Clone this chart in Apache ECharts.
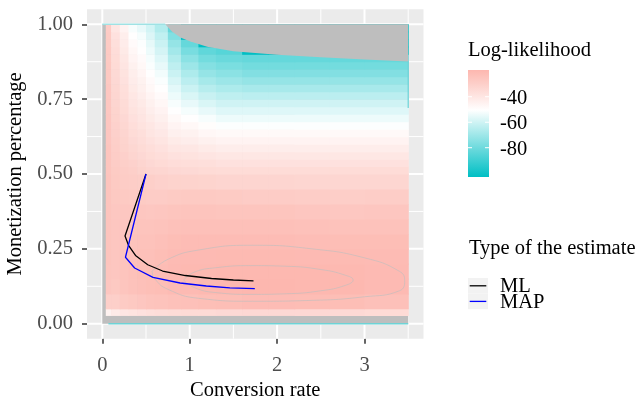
<!DOCTYPE html>
<html>
<head>
<meta charset="utf-8">
<script src="https://cdn.jsdelivr.net/npm/echarts@6/dist/echarts.min.js"></script>
<style>
  html, body { margin: 0; padding: 0; background: #fff; }
  #chart { width: 637px; height: 403px; }
</style>
</head>
<body>
<div id="chart"></div>
<script>
var FONT = "'Liberation Serif', 'Times New Roman', serif";

// axis breaks
var xMajor = [0, 1, 2, 3];
var xMinor = [0.5, 1.5, 2.5, 3.5];
var yMajor = [0, 0.25, 0.5, 0.75, 1];
var yMinor = [0.125, 0.375, 0.625, 0.875];

// log-likelihood surface (cells between column / row edges)
var dataExtentX = [0, 3.5];
var dataExtentY = [0, 1];
var xEdges = [0.04, 0.1, 0.2, 0.3, 0.4, 0.5, 0.6, 0.75, 0.9, 1.1, 1.3, 1.6, 1.9, 2.2, 2.6, 3.0, 3.5];
var yEdges = [0.028, 0.05, 0.1, 0.15, 0.2, 0.25, 0.3, 0.35, 0.4, 0.45, 0.5,
              0.525, 0.55, 0.575, 0.6, 0.625, 0.65, 0.675, 0.7, 0.725, 0.75,
              0.775, 0.8, 0.825, 0.85, 0.875, 0.9, 0.925, 0.95, 0.975, 1.0];
// rows bottom -> top, one value per column
var llRows = [
  [-45, -42, -40, -39, -38, -37, -36, -35.5, -35, -35, -34.5, -34, -34, -34, -34.5, -35],
  [-30, -30, -28, -27, -26, -25, -24.5, -23.5, -23, -22.5, -22, -21.5, -21.5, -21.7, -22, -23],
  [-26, -27, -25.5, -24, -23, -22.5, -22, -21, -20.5, -20, -19.5, -19.2, -19.1, -19.3, -19.6, -20.5],
  [-25.5, -26, -25, -23.5, -22.5, -22, -21.5, -20.5, -20, -19.8, -19.5, -19.3, -19.3, -19.5, -19.9, -20.5],
  [-25, -26, -25, -24, -23, -23, -22, -21, -20.5, -20.5, -20.3, -20.2, -20.2, -20.5, -20.8, -21],
  [-25, -26, -25.5, -24.5, -24, -24, -23, -22, -21.5, -21.5, -21.5, -21.5, -21.5, -21.8, -22, -22],
  [-25, -26, -26, -25.5, -25, -25, -24.5, -23.5, -23, -23, -23, -23, -23.2, -23.5, -24, -24],
  [-25, -26.5, -26.5, -26.5, -26, -26.5, -26, -25.5, -25, -25, -25.5, -25.5, -25.5, -26, -26.5, -26],
  [-25, -27, -27.5, -28, -28, -28.5, -28.5, -28, -27.5, -27.5, -28, -28.5, -28.5, -29, -29.5, -29],
  [-25, -27.5, -28.5, -29, -29.5, -30, -31, -31.5, -31.5, -32, -32.5, -32.5, -32.5, -33, -33, -33],
  [-25.5, -28, -29, -30, -31.5, -32.5, -33, -34, -34.5, -35, -35.5, -35.5, -35.5, -35.5, -35.5, -35.5],
  [-25.5, -28.5, -30, -31, -32.5, -34, -35, -36, -36.5, -37, -38, -38, -38, -38, -38, -38],
  [-25.5, -29, -30.5, -32.5, -34, -35.5, -36.5, -38, -38.5, -39.5, -40.5, -40.5, -40.5, -40.5, -40.5, -40.5],
  [-25.5, -29.5, -31.5, -33.5, -35, -36.5, -38, -40, -40.5, -42, -43, -43, -43, -43, -43, -43],
  [-26, -30, -32, -34.5, -36, -38, -39.5, -42, -43, -44.5, -45.5, -45.5, -45.5, -45.5, -45.5, -45.5],
  [-26, -30.5, -32.5, -35.5, -37, -39.5, -41, -44, -45, -47, -48, -48, -48, -48, -48, -48],
  [-26, -31, -33.5, -36.5, -38.5, -40.5, -42.5, -46, -47.5, -49.5, -51, -51, -51, -51, -51, -51],
  [-26, -31.5, -34, -37.5, -39.5, -42, -44, -48, -50, -52, -54, -54, -54, -54, -54, -54],
  [-26.5, -32, -35, -38.5, -40.5, -43.5, -45.5, -50, -52.5, -55, -57, -57, -57, -57, -57, -57],
  [-26.5, -32.5, -35.5, -39.5, -41.5, -44.5, -47, -52, -55, -58, -60, -60, -60, -60, -60, -60],
  [-26.5, -33, -36.5, -40.5, -43, -46, -48.5, -54, -58, -61.5, -63.5, -64, -64, -64, -64, -64],
  [-26.5, -33.5, -37, -41.5, -44, -47.5, -50, -56, -61, -65, -67, -68, -68, -68, -68, -68],
  [-27, -34, -38, -42.5, -45, -48.5, -51.5, -58.5, -64, -68.5, -70.5, -72, -72, -72, -72, -72],
  [-27, -34.5, -38.5, -43.5, -46.5, -50, -53, -61, -67, -72, -74, -76, -76, -76, -76, -76],
  [-27, -35, -39.5, -44.5, -47.5, -51.5, -55, -63.5, -70.5, -75.5, -77.5, -79, -79, -79, -79, -79],
  [-27.5, -35.5, -40.5, -46, -48.5, -52.5, -57, -66, -74, -79, -81, -82, -82, -82, -82, -82],
  [-27.5, -36, -41.5, -47, -50, -54, -59, -69, -78, -83, -85, -105, -105, -105, -105, -105],
  [-28, -37, -42.5, -48.5, -51, -55.5, -61, -72, -82, -105, -105, -105, -105, -105, -105, -105],
  [-28, -38, -43.5, -50, -52.5, -57.5, -63, -76, -105, -105, -105, -105, -105, -105, -105, -105],
  [-28.5, -40, -45.5, -52, -55, -59.5, -66, -82, -105, -105, -105, -105, -105, -105, -105, -105]
];
// region where the likelihood falls below the scale (grey)
var naEdge = [[0.72, 1.0], [0.8, 0.975], [0.9, 0.955], [1.0, 0.943], [1.2, 0.925], [1.5, 0.91],
              [2.0, 0.898], [2.5, 0.89], [3.0, 0.882], [3.5, 0.876], [3.5, 1.0]];

// a few of the contour lines
var contourInner = [[0.93, 0.146], [1.05, 0.172], [1.3, 0.187], [1.7, 0.194], [2.1, 0.192], [2.5, 0.181],
  [2.78, 0.162], [2.87, 0.146], [2.78, 0.128], [2.5, 0.11], [2.1, 0.1], [1.7, 0.098], [1.3, 0.104],
  [1.05, 0.121], [0.93, 0.146]];
var contourOuter = [[0.57, 0.175], [0.75, 0.215], [1.1, 0.246], [1.72, 0.262], [2.4, 0.25], [3.0, 0.22],
  [3.4, 0.175], [3.46, 0.143], [3.4, 0.11], [3.0, 0.09], [2.4, 0.078], [1.72, 0.075], [1.1, 0.085],
  [0.75, 0.115], [0.6, 0.15], [0.57, 0.175]];
var edgeBottom = [[0.07, 0], [3.5, 0]];
var edgeTop = [[0, 1], [0.72, 1]];
var edgeRight = [[3.5, 0.876], [3.5, 0.72]];

// estimates
var estimateNames = ['ML', 'MAP'];
var estimateColors = ['#000000', '#0000FF'];
var mlPath = [[0.5, 0.5], [0.26, 0.293], [0.30, 0.262], [0.38, 0.228], [0.52, 0.197], [0.69, 0.176],
              [0.95, 0.161], [1.25, 0.151], [1.5, 0.146], [1.73, 0.143]];
var mapPath = [[0.5, 0.5], [0.265, 0.222], [0.37, 0.186], [0.58, 0.155], [0.89, 0.136], [1.19, 0.126],
               [1.46, 0.120], [1.745, 0.117]];

// colour scale
var llMin = -103, llMax = -19;
var llTicks = [-40, -60, -80];
var palette = ['#00BFC4', '#32CCD0', '#65D8DB', '#97E5E7', '#CAF2F3', '#FFFFFF', '#FEE6E3', '#FDCEC8', '#FDB7AF'];
var naColor = '#BEBEBE';

var cells = [];
llRows.forEach(function (row, j) {
  row.forEach(function (v, i) {
    cells.push([xEdges[i], xEdges[i + 1], yEdges[j], yEdges[j + 1], v]);
  });
});

function gridSeries(values, vertical, width) {
  return {
    type: 'custom', silent: true, z: 1,
    data: values.map(function (v) { return [v]; }),
    renderItem: function (params, api) {
      var cs = params.coordSys;
      var shape;
      if (vertical) {
        var x = api.coord([api.value(0), 0])[0];
        shape = {x1: x, y1: cs.y, x2: x, y2: cs.y + cs.height};
      } else {
        var y = api.coord([0, api.value(0)])[1];
        shape = {x1: cs.x, y1: y, x2: cs.x + cs.width, y2: y};
      }
      return {type: 'line', shape: shape, style: {stroke: '#FFFFFF', lineWidth: width}};
    }
  };
}

function polySeries(points, color, z) {
  return {
    type: 'custom', silent: true, z: z,
    data: [0],
    renderItem: function (params, api) {
      return {
        type: 'polygon',
        shape: {points: points.map(function (p) { return api.coord(p); })},
        style: {fill: color}
      };
    }
  };
}

function pathSeries(name, pts, color, width, z, smooth) {
  return {
    name: name, type: 'line', data: pts, symbol: 'none', showSymbol: false, z: z,
    smooth: smooth || false, silent: true, animation: false,
    lineStyle: {color: color, width: width}, itemStyle: {color: color}
  };
}

var baseRect = [[dataExtentX[0], dataExtentY[0]], [dataExtentX[1], dataExtentY[0]],
                [dataExtentX[1], dataExtentY[1]], [dataExtentX[0], dataExtentY[1]]];

var barLeft = 468, barTop = 70, barW = 21, barH = 107;
function barY(v) { return barTop + (llMax - v) / (llMax - llMin) * barH; }

var graphics = [
  {type: 'text', left: 468, top: 40, style: {text: 'Log-likelihood', font: '20.5px ' + FONT, fill: '#000'}},
  {type: 'rect', shape: {x: barLeft, y: barTop, width: barW, height: barH},
   style: {fill: {type: 'linear', x: 0, y: 1, x2: 0, y2: 0,
     colorStops: palette.map(function (c, i) { return {offset: i / (palette.length - 1), color: c}; })}}},
  {type: 'text', left: 469, top: 238, style: {text: 'Type of the estimate', font: '20.5px ' + FONT, fill: '#000'}}
];
llTicks.forEach(function (t) {
  var y = barY(t);
  graphics.push({type: 'rect', shape: {x: barLeft, y: y - 0.5, width: 4, height: 1}, style: {fill: '#fff'}});
  graphics.push({type: 'rect', shape: {x: barLeft + barW - 4, y: y - 0.5, width: 4, height: 1}, style: {fill: '#fff'}});
  graphics.push({type: 'text', x: 500, y: y + 1.5, style: {text: String(t), font: '20.5px ' + FONT, fill: '#000', verticalAlign: 'middle'}});
});
// legend keys for the estimate type
estimateNames.forEach(function (name, i) {
  var top = 278 + i * 15.6, mid = top + 7.8;
  graphics.push({type: 'rect', shape: {x: 468, y: top, width: 20, height: 15.6}, style: {fill: '#F2F2F2'}});
  graphics.push({type: 'rect', shape: {x: 469.7, y: mid - 0.65, width: 16.6, height: 1.3}, style: {fill: estimateColors[i]}});
  graphics.push({type: 'text', x: 500, y: mid + 1, style: {text: name, font: '20.5px ' + FONT, fill: '#000', verticalAlign: 'middle'}});
});

var chart = echarts.init(document.getElementById('chart'));
chart.setOption({
  animation: false,
  grid: {left: 87, right: 213.5, top: 9.3, bottom: 64.3, show: true, backgroundColor: '#EBEBEB', borderWidth: 0,
         containLabel: false, outerBoundsMode: 'none'},
  xAxis: {
    type: 'value', min: -0.175, max: 3.675,
    splitLine: {show: false}, axisLine: {show: false, onZero: false},
    axisTick: {show: true, customValues: xMajor, length: 5, lineStyle: {color: '#333333', width: 1.5}},
    axisLabel: {customValues: xMajor, margin: 16, fontFamily: FONT, fontSize: 20.5, color: '#4D4D4D'},
    name: 'Conversion rate', nameLocation: 'middle', nameGap: 41,
    nameTextStyle: {fontFamily: FONT, fontSize: 20.5, color: '#000'}
  },
  yAxis: {
    type: 'value', min: -0.05, max: 1.05,
    splitLine: {show: false}, axisLine: {show: false, onZero: false},
    axisTick: {show: true, customValues: yMajor, length: 5, lineStyle: {color: '#333333', width: 1.5}},
    axisLabel: {customValues: yMajor, margin: 14, fontFamily: FONT, fontSize: 20.5, color: '#4D4D4D',
      formatter: function (v) { return v.toFixed(2); }},
    name: 'Monetization percentage', nameLocation: 'middle', nameRotate: 90, nameGap: 58,
    nameTextStyle: {fontFamily: FONT, fontSize: 20.5, color: '#000'}
  },
  visualMap: {
    type: 'continuous', show: false, seriesIndex: 5, dimension: 4,
    min: llMin, max: llMax,
    inRange: {color: palette}, outOfRange: {color: naColor}
  },
  graphic: graphics,
  series: [
    gridSeries(xMajor, true, 2),
    gridSeries(xMinor, true, 1),
    gridSeries(yMajor, false, 2),
    gridSeries(yMinor, false, 1),
    polySeries(baseRect, naColor, 2),
    {
      type: 'custom', silent: true, z: 3,
      data: cells,
      encode: {x: [0, 1], y: [2, 3]},
      renderItem: function (params, api) {
        var p0 = api.coord([api.value(0), api.value(3)]);
        var p1 = api.coord([api.value(1), api.value(2)]);
        return {
          type: 'rect',
          shape: {x: p0[0], y: p0[1], width: p1[0] - p0[0] + 0.6, height: p1[1] - p0[1] + 0.6},
          style: {fill: api.visual('color')}
        };
      }
    },
    pathSeries('c1', contourInner, 'rgba(190,190,190,0.8)', 0.8, 4, 0.5),
    pathSeries('c2', contourOuter, 'rgba(190,190,190,0.8)', 0.8, 4, 0.5),
    polySeries(naEdge, naColor, 5),
    pathSeries('e1', edgeBottom, '#6ED3D6', 1.5, 6),
    pathSeries('e2', edgeTop, '#9FE2E4', 1.5, 6),
    pathSeries('e3', edgeRight, '#6ED3D6', 1.2, 6),
    pathSeries(estimateNames[0], mlPath, estimateColors[0], 1.3, 7),
    pathSeries(estimateNames[1], mapPath, estimateColors[1], 1.3, 7)
  ]
});
</script>
</body>
</html>
